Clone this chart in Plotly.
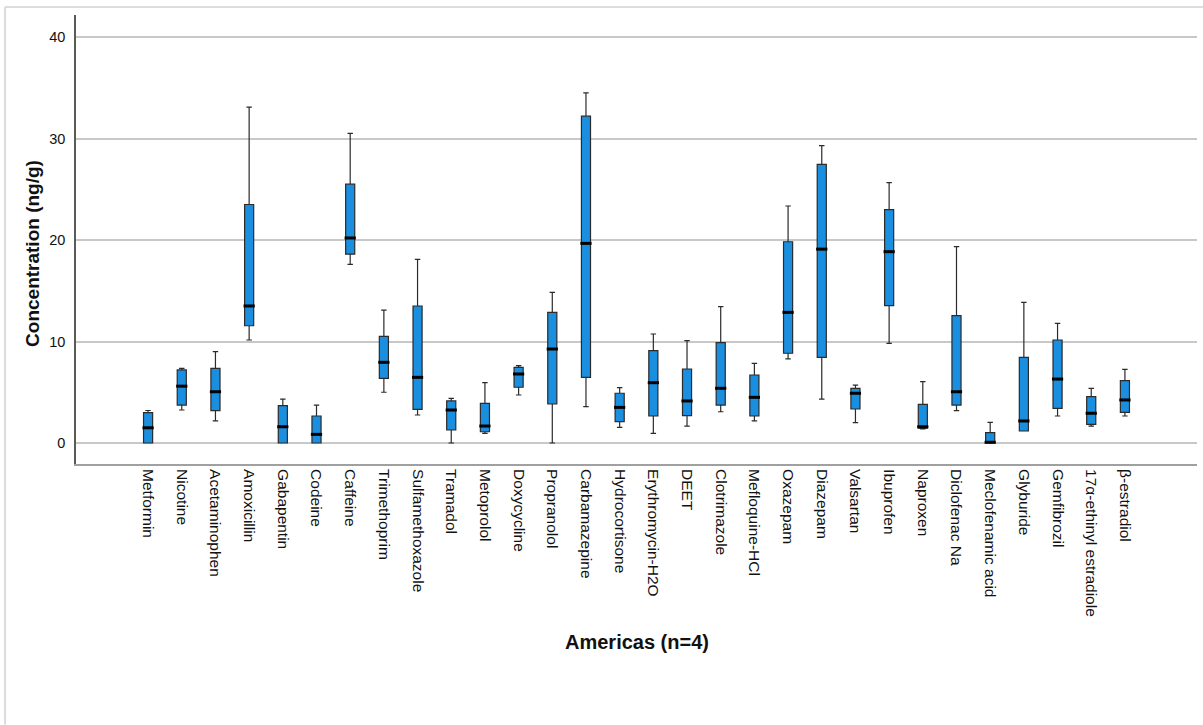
import plotly.graph_objects as go

# Compounds measured (Americas, n=4)
compounds = [
    "Metformin", "Nicotine", "Acetaminophen", "Amoxicillin", "Gabapentin",
    "Codeine", "Caffeine", "Trimethoprim", "Sulfamethoxazole", "Tramadol",
    "Metoprolol", "Doxycycline", "Propranolol", "Carbamazepine", "Hydrocortisone",
    "Erythromycin-H2O", "DEET", "Clotrimazole", "Mefloquine-HCl", "Oxazepam",
    "Diazepam", "Valsartan", "Ibuprofen", "Naproxen", "Diclofenac Na",
    "Meclofenamic acid", "Glyburide", "Gemfibrozil", "17\u03b1-ethinyl estradiole",
    "\u03b2-estradiol",
]

# Box statistics, ng/g
minimum = [0.0, 3.25, 2.17, 10.15, 0.0, 0.0, 17.6, 5.0, 2.76, 0.0,
           0.95, 4.73, 0.0, 3.58, 1.54, 0.95, 1.67, 3.08, 2.17, 8.28,
           4.33, 2.0, 9.82, 1.4, 3.18, 0.0, 1.18, 2.66, 1.67, 2.66]
lower_q = [0.0, 3.74, 3.18, 11.55, 0.0, 0.0, 18.6, 6.37, 3.32, 1.28,
           1.11, 5.49, 3.84, 6.47, 2.1, 2.66, 2.69, 3.74, 2.66, 8.84,
           8.44, 3.35, 13.53, 1.45, 3.74, 0.0, 1.18, 3.42, 1.84, 3.02]
median = [1.5, 5.6, 5.05, 13.5, 1.6, 0.85, 20.2, 7.95, 6.47, 3.25,
          1.67, 6.8, 9.26, 19.67, 3.51, 5.94, 4.14, 5.39, 4.5, 12.87,
          19.1, 4.9, 18.85, 1.6, 5.05, 0.07, 2.17, 6.3, 2.93, 4.24]
upper_q = [3.0, 7.2, 7.36, 23.5, 3.68, 2.66, 25.5, 10.5, 13.5, 4.14,
           3.9, 7.45, 12.87, 32.2, 4.9, 9.1, 7.29, 9.88, 6.7, 19.83,
           27.46, 5.39, 23.0, 3.81, 12.54, 1.02, 8.44, 10.15, 4.56, 6.14]
maximum = [3.2, 7.36, 9.0, 33.1, 4.33, 3.74, 30.5, 13.1, 18.1, 4.4,
           5.94, 7.62, 14.85, 34.5, 5.45, 10.74, 10.08, 13.43, 7.85, 23.35,
           29.3, 5.71, 25.65, 6.04, 19.34, 2.04, 13.86, 11.79, 5.39, 7.26]

y_ticks = [0, 10, 20, 30, 40]

BOX_FILL = "#1a8fe0"
EDGE = "#2b2b2b"
FONT = "Liberation Sans, Arial, sans-serif"

fig = go.Figure()

fig.add_trace(go.Box(
    x=compounds,
    q1=lower_q,
    median=median,
    q3=upper_q,
    lowerfence=minimum,
    upperfence=maximum,
    fillcolor=BOX_FILL,
    line=dict(color=EDGE, width=1.2),
    width=0.27,
    whiskerwidth=0.6,
    boxpoints=False,
    hoverinfo="skip",
    showlegend=False,
))

# Heavier median bar drawn on top of each box
fig.add_trace(go.Scatter(
    x=compounds,
    y=median,
    mode="markers",
    marker=dict(symbol="line-ew", size=8, line=dict(color="black", width=3)),
    hoverinfo="skip",
    showlegend=False,
))

fig.update_layout(
    width=1203,
    height=725,
    margin=dict(l=76, r=6, t=15, b=261),
    paper_bgcolor="white",
    plot_bgcolor="white",
    font=dict(family=FONT, color="#111111"),
    xaxis=dict(
        type="category",
        range=[-2.14, 31.14],
        tickangle=90,
        ticks="",
        tickfont=dict(size=15.5, family=FONT, color="#111111"),
        showgrid=False,
        showline=True,
        linecolor="#a0a0a0",
        linewidth=2,
        zeroline=False,
        fixedrange=True,
    ),
    yaxis=dict(
        range=[-2.07, 42.17],
        tickvals=y_ticks,
        ticktext=[str(v) for v in y_ticks],
        ticks="",
        ticklabelstandoff=6,
        tickfont=dict(size=14.5, family=FONT, color="#111111"),
        showgrid=True,
        gridcolor="#c8c8c8",
        gridwidth=1.5,
        showline=True,
        linecolor="#5a5a5a",
        linewidth=1.5,
        zeroline=False,
        fixedrange=True,
    ),
    annotations=[
        dict(text="<b>Americas (n=4)</b>", xref="paper", yref="paper",
             x=0.5, y=-0.3964, xanchor="center", yanchor="middle",
             showarrow=False, font=dict(size=20, family=FONT, color="#111111")),
        dict(text="<b>Concentration (ng/g)</b>", xref="paper", yref="paper",
             x=-0.0384, y=0.47, textangle=-90, xanchor="center", yanchor="middle",
             showarrow=False, font=dict(size=19, family=FONT, color="#111111")),
    ],
    shapes=[
        dict(type="line", xref="paper", yref="paper",
             x0=-0.0633, x1=-0.0633, y0=1.0178, y1=-0.581,
             line=dict(color="#dcdcdc", width=2)),
        dict(type="line", xref="paper", yref="paper",
             x0=-0.0633, x1=1.0054, y0=1.0178, y1=1.0178,
             line=dict(color="#dcdcdc", width=2)),
    ],
)

fig.write_html("out.html")
